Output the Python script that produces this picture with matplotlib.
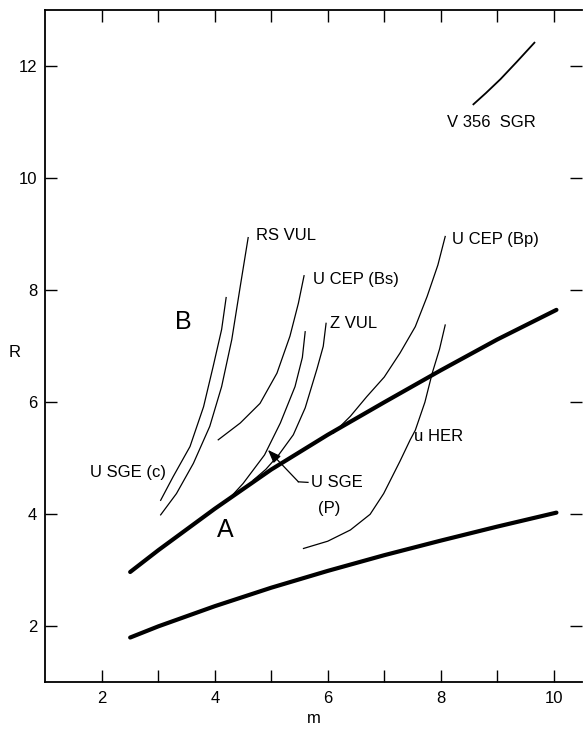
import matplotlib
matplotlib.use("Agg")
import matplotlib.pyplot as plt

plt.rcParams['font.family'] = ['Liberation Sans', 'DejaVu Sans']

# Thick boundary lines
bound_m = [2.5, 3.0, 4.0, 5.0, 6.0, 7.0, 8.0, 9.0, 10.05]
upper_R = [2.97, 3.36, 4.10, 4.80, 5.42, 6.00, 6.57, 7.12, 7.65]
lower_R = [1.80, 2.00, 2.36, 2.69, 2.99, 3.27, 3.53, 3.78, 4.03]

# Thin tracks
sge_c_m = [3.04, 3.26, 3.56, 3.80, 3.97, 4.12, 4.20]
sge_c_R = [4.25, 4.67, 5.21, 5.92, 6.64, 7.30, 7.87]

rs_vul_m = [3.04, 3.32, 3.62, 3.91, 4.12, 4.30, 4.45, 4.59]
rs_vul_R = [3.99, 4.37, 4.91, 5.57, 6.28, 7.12, 8.07, 8.94]

ucep_bs_m = [4.06, 4.45, 4.80, 5.10, 5.33, 5.48, 5.58]
ucep_bs_R = [5.33, 5.63, 5.98, 6.52, 7.18, 7.77, 8.26]

sge_p_m = [4.20, 4.50, 4.88, 5.16, 5.42, 5.55, 5.60]
sge_p_R = [4.22, 4.55, 5.06, 5.63, 6.28, 6.80, 7.26]

zvul_m = [4.68, 4.90, 5.13, 5.39, 5.60, 5.81, 5.92, 5.97]
zvul_R = [4.61, 4.80, 5.06, 5.42, 5.90, 6.60, 7.00, 7.41]

ucep_bp_m = [6.10, 6.40, 6.69, 7.00, 7.28, 7.55, 7.76, 7.95, 8.08]
ucep_bp_R = [5.45, 5.75, 6.10, 6.45, 6.88, 7.35, 7.89, 8.45, 8.96]

uher_m = [5.57, 6.00, 6.40, 6.75, 6.99, 7.28, 7.46, 7.55, 7.72, 7.85, 7.98, 8.08]
uher_R = [3.39, 3.52, 3.72, 4.00, 4.37, 4.95, 5.33, 5.50, 6.00, 6.52, 6.95, 7.38]

v356_m = [8.58, 8.80, 9.06, 9.35, 9.66]
v356_R = [11.32, 11.52, 11.77, 12.08, 12.42]

fig = plt.figure(figsize=(5.83, 7.29), dpi=100)
ax = fig.add_axes([0.078, 0.064, 0.92, 0.922])

thick = dict(color='black', lw=3.0, solid_capstyle='round')
thin = dict(color='black', lw=0.9)

ax.plot(bound_m, upper_R, **thick)
ax.plot(bound_m, lower_R, **thick)
for mm, rr in [(sge_c_m, sge_c_R), (rs_vul_m, rs_vul_R), (ucep_bs_m, ucep_bs_R),
               (sge_p_m, sge_p_R), (zvul_m, zvul_R), (ucep_bp_m, ucep_bp_R),
               (uher_m, uher_R)]:
    ax.plot(mm, rr, **thin)
ax.plot(v356_m, v356_R, color='black', lw=1.3)

fs = 12
ax.text(4.73, 8.98, "RS VUL", fontsize=fs, va='center', ha='left')
ax.text(5.74, 8.20, "U CEP (Bs)", fontsize=fs, va='center', ha='left')
ax.text(6.04, 7.40, "Z VUL", fontsize=fs, va='center', ha='left')
ax.text(8.20, 8.90, "U CEP (Bp)", fontsize=fs, va='center', ha='left')
ax.text(7.53, 5.39, "u HER", fontsize=fs, va='center', ha='left')
ax.text(1.79, 4.75, "U SGE (c)", fontsize=fs, va='center', ha='left')
ax.text(8.11, 11.0, "V 356  SGR", fontsize=fs, va='center', ha='left')
ax.text(5.70, 4.56, "U SGE", fontsize=fs, va='center', ha='left')
ax.text(5.82, 4.10, "(P)", fontsize=fs, va='center', ha='left')
ax.text(3.44, 7.44, "B", fontsize=18, va='center', ha='center')
ax.text(4.18, 3.72, "A", fontsize=18, va='center', ha='center')

# leader with arrow for U SGE (P)
ax.plot([5.48, 5.65], [4.58, 4.57], color='black', lw=0.9)
ax.annotate("", xy=(4.94, 5.15), xytext=(5.48, 4.58),
            arrowprops=dict(arrowstyle='-|>,head_length=0.8,head_width=0.3',
                            color='black', lw=0.9, shrinkA=0, shrinkB=0))

ax.set_xlim(1.0, 10.5)
ax.set_ylim(1.0, 13.0)
ax.set_xticks(range(2, 11))
ax.set_xticklabels([str(v) if v % 2 == 0 else "" for v in range(2, 11)])
ax.set_yticks([2, 4, 6, 8, 10, 12])
ax.tick_params(axis='both', direction='in', length=8.5, width=1.0,
               labelsize=12, top=True, right=True, pad=6)
ax.spines['right'].set_visible(False)
for s in ['left', 'bottom', 'top']:
    ax.spines[s].set_linewidth(1.3)

ax.set_xlabel("m", fontsize=12, va='center')
ax.xaxis.set_label_coords(0.5, -0.054)
ax.set_ylabel("R", fontsize=12, rotation=0, va='center', ha='center')
ax.yaxis.set_label_coords(-0.058, 0.49)

fig.savefig("out.png", dpi=100)
